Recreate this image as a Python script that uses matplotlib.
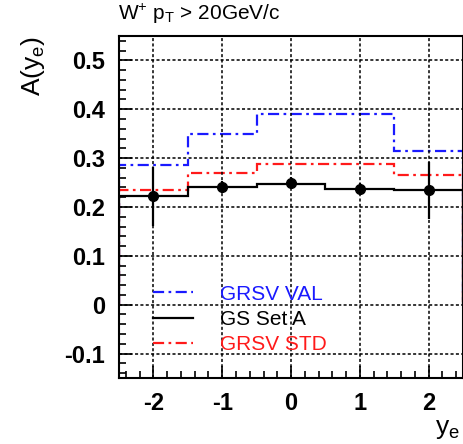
import matplotlib
matplotlib.use("Agg")
import matplotlib.pyplot as plt
from matplotlib.lines import Line2D
from matplotlib.ticker import MultipleLocator, FuncFormatter

plt.rcParams['font.family'] = ['Liberation Sans', 'DejaVu Sans']
plt.rcParams['axes.unicode_minus'] = False
plt.rcParams['mathtext.fontset'] = 'custom'
plt.rcParams['mathtext.rm'] = 'Liberation Sans'
plt.rcParams['mathtext.it'] = 'Liberation Sans'

# bin edges in y_e
edges = [-2.5, -1.5, -0.5, 0.5, 1.5, 2.5]
# predictions per bin
grsv_val = [0.285, 0.349, 0.390, 0.390, 0.314]
grsv_std = [0.234, 0.269, 0.287, 0.287, 0.266]
gs_set_a = [0.222, 0.241, 0.248, 0.237, 0.234]
# projected data points
pt_x = [-2, -1, 0, 1, 2]
pt_y = [0.222, 0.241, 0.250, 0.237, 0.234]
pt_err = [0.060, 0.012, 0.012, 0.012, 0.058]

fig = plt.figure(figsize=(4.64, 4.44), dpi=100)
ax = fig.add_axes([0.2565, 0.1486, 0.7415, 0.7704])

dashdot = (0, (5, 2, 1.2, 2))
ax.stairs(grsv_val, edges, baseline=0, color='#1a1aff', lw=1.6, linestyle=dashdot)
ax.stairs(grsv_std, edges, baseline=0, color='#ff1a1a', lw=1.6, linestyle=dashdot)
ax.stairs(gs_set_a, edges, baseline=0, color='black', lw=1.6)
ax.errorbar(pt_x, pt_y, yerr=pt_err, fmt='o', color='black', ms=7, elinewidth=1.6, capsize=0)

ax.set_xlim(-2.5, 2.5)
ax.set_ylim(-0.15, 0.55)
ax.xaxis.set_major_locator(MultipleLocator(1))
ax.xaxis.set_minor_locator(MultipleLocator(0.2))
ax.yaxis.set_major_locator(MultipleLocator(0.1))
ax.yaxis.set_minor_locator(MultipleLocator(0.02))
ax.yaxis.set_major_formatter(FuncFormatter(lambda v, p: "%g" % round(v, 2)))
ax.tick_params(which='both', direction='in', top=False, right=False, labelsize=17, width=1.2)
ax.tick_params(which='major', length=9, pad=10)
ax.tick_params(which='minor', length=5)
for lab in ax.get_xticklabels() + ax.get_yticklabels():
    lab.set_fontweight('bold')
ax.grid(True, which='major', color='black', linestyle=(0, (2, 1.5)), lw=1.1)
for s in ax.spines.values():
    s.set_linewidth(1.5)

ax.set_xlabel(r'$\mathregular{y_e}$', fontsize=19)
ax.xaxis.set_label_coords(0.955, -0.115)
ax.set_ylabel(r'A($\mathregular{y_e}$)', fontsize=19, loc='top')
ax.yaxis.set_label_coords(-0.21, 1.0)
fig.text(0.254, 0.955, r'W$\mathregular{^{+}}$ p$\mathregular{_T}$ > 20GeV/c', fontsize=15, va='baseline')

handles = [Line2D([], [], color='#1a1aff', lw=1.6, linestyle=dashdot),
           Line2D([], [], color='black', lw=1.6),
           Line2D([], [], color='#ff1a1a', lw=1.6, linestyle=dashdot)]
leg = ax.legend(handles, ['GRSV VAL', 'GS Set A', 'GRSV STD'], loc='upper left',
                bbox_to_anchor=(0.045, 0.328), frameon=False, fontsize=15,
                handlelength=1.9, handletextpad=1.3, labelspacing=0.3,
                labelcolor=['#1a1aff', 'black', '#ff1a1a'])

fig.savefig('out.png', dpi=100)
